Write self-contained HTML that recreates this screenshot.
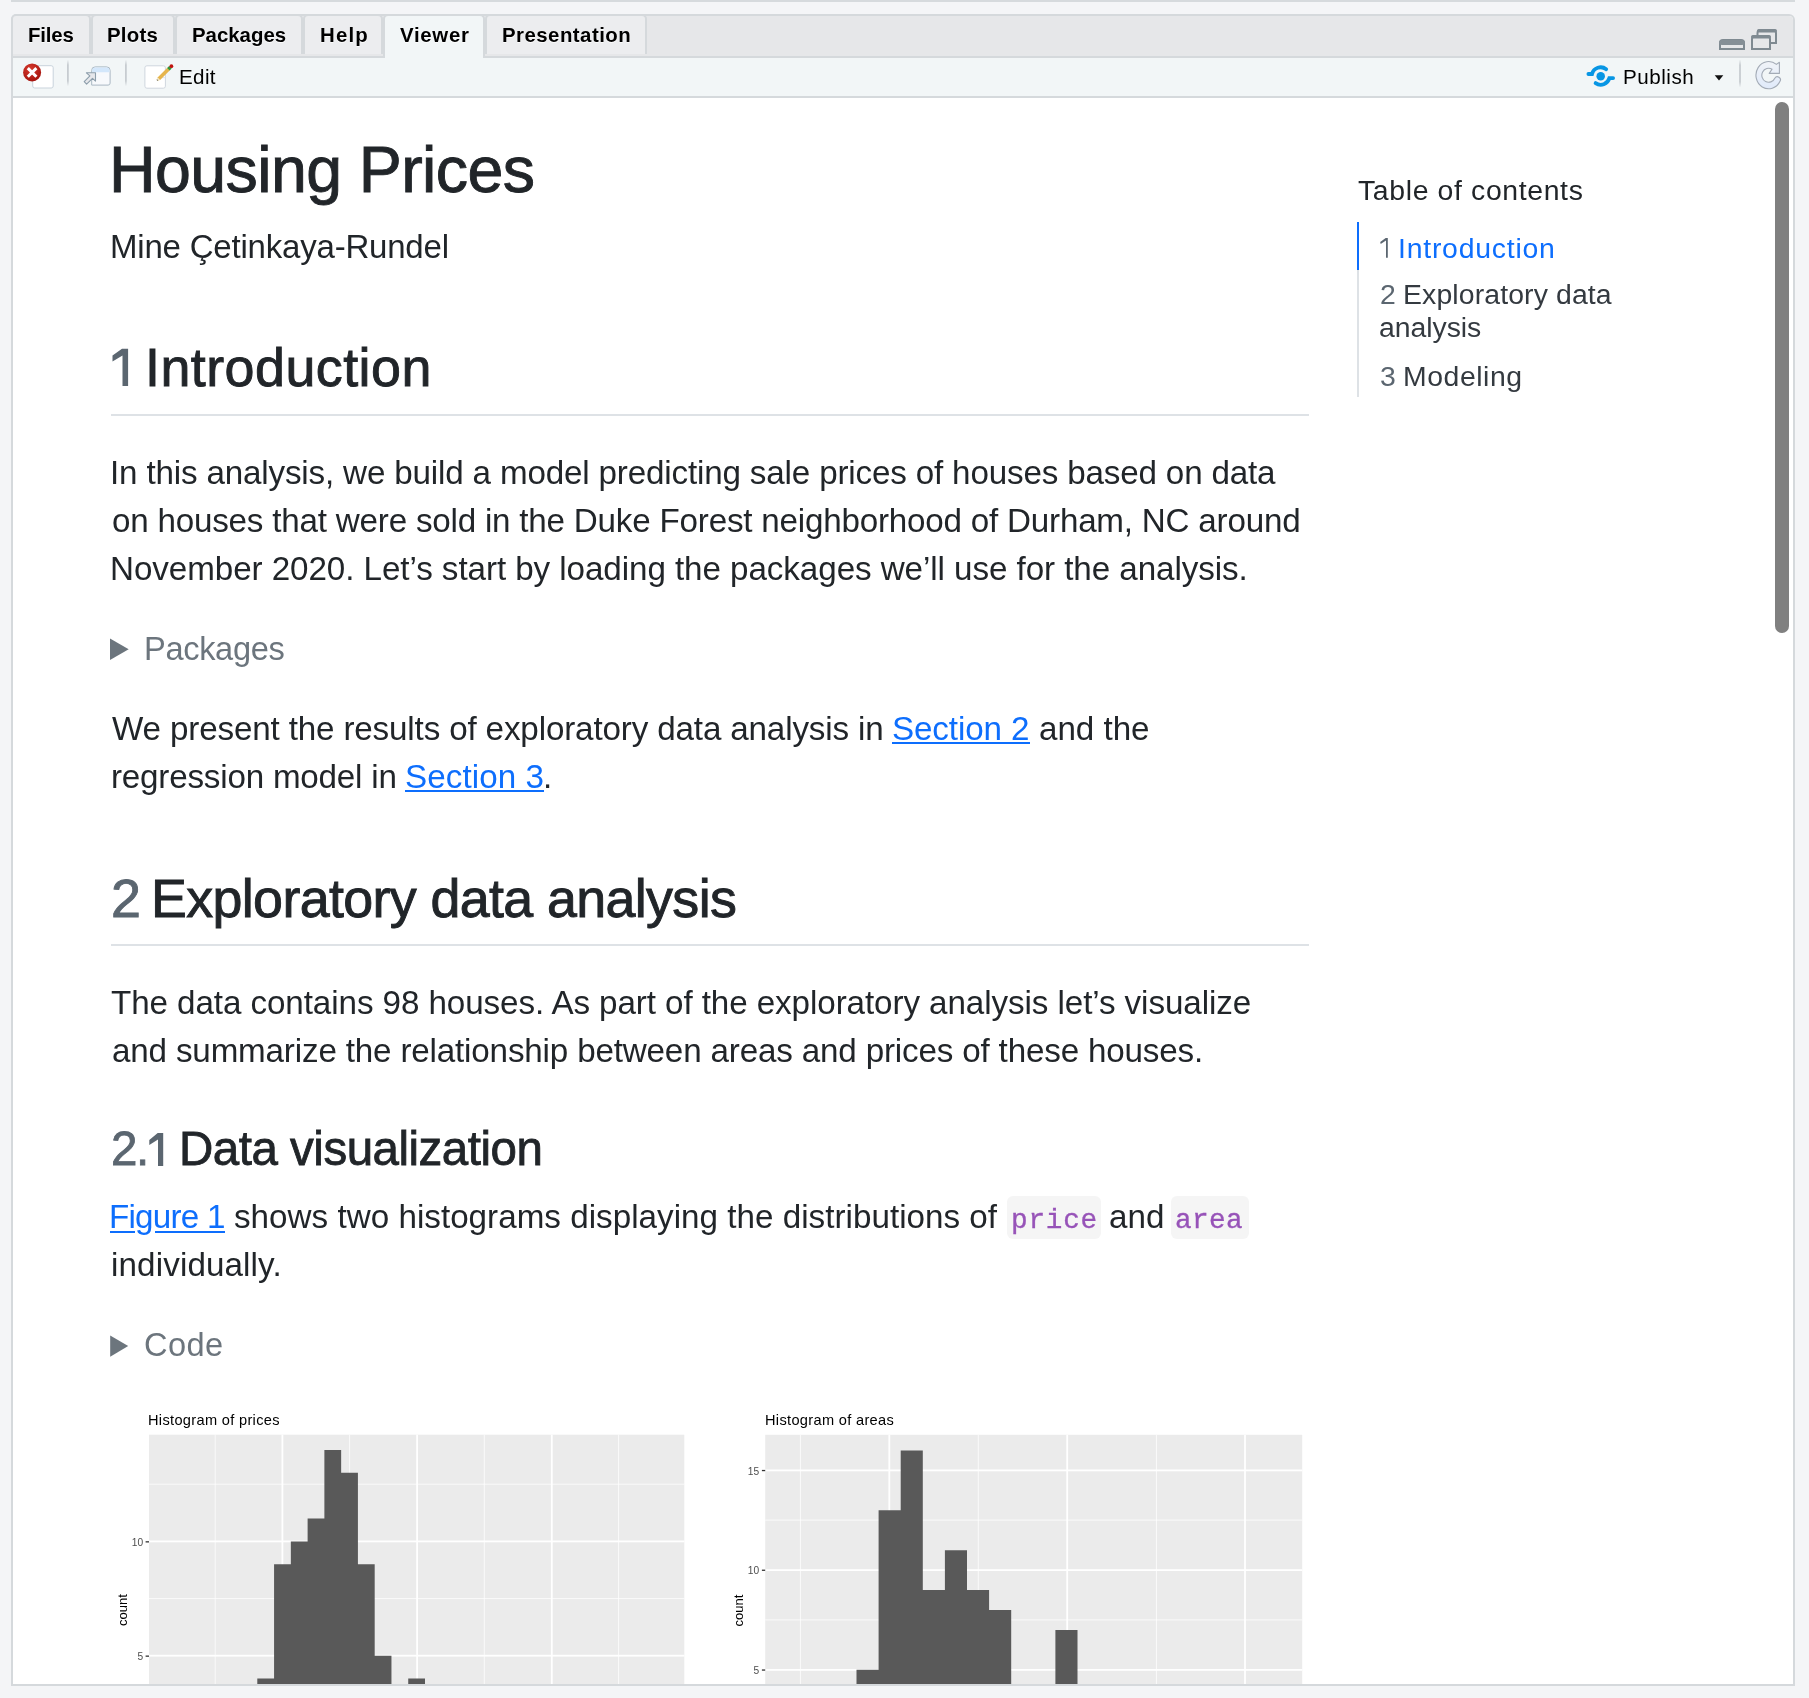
<!DOCTYPE html>
<html><head><meta charset="utf-8">
<style>
*{box-sizing:border-box;margin:0;padding:0}
html,body{width:1809px;height:1698px;overflow:hidden;background:#f4f5f7;font-family:"Liberation Sans",sans-serif}
.a{position:absolute}
.t{position:absolute;white-space:nowrap;line-height:1;font-family:"Liberation Sans",sans-serif;will-change:transform}
.tab{position:absolute;top:14px;height:40px;border:2px solid #d5d9dc;border-bottom:0;border-radius:5px 5px 0 0;background:#ecedef}
.sep{position:absolute;width:2px;background:linear-gradient(to bottom,rgba(200,205,210,0),#c6cbd0 25%,#c6cbd0 75%,rgba(200,205,210,0))}
</style></head><body>
<!-- top gray line -->
<div class="a" style="left:11px;top:0;width:1784px;height:2px;background:#d6dadd"></div>
<!-- panel -->
<div class="a" style="left:11px;top:14px;width:1784px;height:1672px;border:2px solid #d5d9dc;border-radius:6px 6px 0 0;background:#fff;overflow:hidden"></div>
<!-- tab strip -->
<div class="a" style="left:13px;top:16px;width:1780px;height:40px;background:#e6e7e9;border-radius:4px 4px 0 0"></div>
<div class="a" style="left:13px;top:56px;width:1780px;height:2px;background:#d5d9dc"></div>
<!-- tabs -->
<div class="tab" style="left:11px;width:80px"></div>
<div class="tab" style="left:91px;width:84px"></div>
<div class="tab" style="left:175px;width:128px"></div>
<div class="tab" style="left:303px;width:80px"></div>
<div class="tab" style="left:383px;width:102px;height:44px;background:#f2f6f7"></div>
<div class="tab" style="left:485px;width:162px"></div>
<!-- toolbar -->
<div class="a" style="left:13px;top:58px;width:1780px;height:38px;background:#f2f6f7"></div>
<div class="a" style="left:385px;top:54px;width:98px;height:4px;background:#f2f6f7"></div>
<div class="a" style="left:13px;top:96px;width:1780px;height:2px;background:#d5d9dc"></div>

<!-- window buttons -->
<svg class="a" style="left:1715px;top:25px" width="70" height="30" viewBox="1715 25 70 30">
  <path d="M1720 49 V43 a3 3 0 0 1 3 -3 H1741 a3 3 0 0 1 3 3 V49 Z" fill="none" stroke="#7f8a91" stroke-width="2"/>
  <rect x="1719" y="40" width="26" height="5" rx="3" fill="#858f96"/>
  <path d="M1757.5 37 V33 a3 3 0 0 1 3 -3 H1773 a3 3 0 0 1 3 3 V43 H1771" fill="none" stroke="#7f8a91" stroke-width="2"/>
  <rect x="1757" y="29" width="20" height="3.5" rx="2" fill="#7f8a91"/>
  <path d="M1752 49 V39 a3 3 0 0 1 3 -3 H1767 a3 3 0 0 1 3 3 V49 Z" fill="none" stroke="#7f8a91" stroke-width="2"/>
  <rect x="1751" y="35" width="20" height="3.5" rx="2" fill="#7f8a91"/>
</svg>

<!-- toolbar icons -->
<svg class="a" style="left:13px;top:58px" width="200" height="38" viewBox="13 58 200 38">
  <defs>
    <radialGradient id="rg" cx="0.4" cy="0.3" r="0.75"><stop offset="0" stop-color="#d63a2e"/><stop offset="1" stop-color="#a3120c"/></radialGradient>
    <linearGradient id="sepg" x1="0" y1="0" x2="0" y2="1"><stop offset="0" stop-color="#c2c7cc" stop-opacity="0"/><stop offset=".2" stop-color="#c2c7cc"/><stop offset=".8" stop-color="#c2c7cc"/><stop offset="1" stop-color="#c2c7cc" stop-opacity="0"/></linearGradient>
  </defs>
  <rect x="32.7" y="65.7" width="20.5" height="22.3" rx="2" fill="#fff" stroke="#c9d3dc" stroke-width="1"/>
  <circle cx="32.1" cy="72.4" r="9" fill="url(#rg)"/>
  <path d="M27.8 68.1 L36.4 76.7 M36.4 68.1 L27.8 76.7" stroke="#fff" stroke-width="3" stroke-linecap="butt"/>
  <rect x="67.1" y="59.7" width="1.6" height="26.5" fill="url(#sepg)"/>
  <path d="M91.7 85.1 V70.4 a3.5 3.5 0 0 1 3.5 -3.5 H106.6 a3.5 3.5 0 0 1 3.5 3.5 V83.1 a2 2 0 0 1 -2 2 Z" fill="#f7f9fc" stroke="#a9b8c3" stroke-width="1"/>
  <path d="M92.2 72.3 V70.4 a3 3 0 0 1 3 -3 H106.6 a3 3 0 0 1 3 3 V72.3 Z" fill="#d3e7fb"/>
  <path d="M86.4 72.8 L95.5 72.8 L95.5 81.1 L92.5 78.3 L86.6 84.1 L84.2 81.6 L89.9 75.8 Z" fill="#e6e7eb" stroke="#8d9eab" stroke-width="1.1" stroke-linejoin="round"/>
  <rect x="125.1" y="59.7" width="1.6" height="26.5" fill="url(#sepg)"/>
  <rect x="144.9" y="65.8" width="20.5" height="22.4" rx="2" fill="#fff" stroke="#cfd6de" stroke-width="1"/>
  <path d="M160 77.6 L165.2 77.6" stroke="#e3e6ea" stroke-width="1.2"/>
  <path d="M158.6 79 L168.6 69" stroke="#e6b54c" stroke-width="3.6" stroke-linecap="butt"/>
  <path d="M157.3 80.3 L158.9 78.7" stroke="#f1e4c0" stroke-width="2.6"/>
  <path d="M157.1 80.5 L157.7 79.9" stroke="#7a7460" stroke-width="1.6"/>
  <path d="M168.4 69.2 L170.4 67.2" stroke="#2f9a3c" stroke-width="3.6"/>
  <circle cx="171.4" cy="66.2" r="1.9" fill="#c0140f"/>
</svg>

<svg class="a" style="left:1580px;top:58px" width="213" height="38" viewBox="1580 58 213 38">
  <defs><linearGradient id="refg" x1="0" y1="0" x2="0" y2="1"><stop offset="0" stop-color="#f0f3f8"/><stop offset="1" stop-color="#e0eafa"/></linearGradient></defs>
  <circle cx="1600.7" cy="76.3" r="4.25" fill="#0896e4"/>
  <path d="M1588.4 74 H1592 A9 9 0 0 1 1606.2 69.2" fill="none" stroke="#0896e4" stroke-width="3.8" stroke-linecap="round"/>
  <path d="M1613.1 78.1 H1609.4 A8.9 8.9 0 0 1 1595.6 83.1" fill="none" stroke="#0896e4" stroke-width="3.8" stroke-linecap="round"/>
  <path d="M1714.7 75.2 H1723.3 L1719 80.5 Z" fill="#111"/>
  <rect x="1739.2" y="59.5" width="1.6" height="28" fill="url(#sepg2)"/>
  <defs><linearGradient id="sepg2" x1="0" y1="0" x2="0" y2="1"><stop offset="0" stop-color="#c2c7cc" stop-opacity="0"/><stop offset=".2" stop-color="#c2c7cc"/><stop offset=".8" stop-color="#c2c7cc"/><stop offset="1" stop-color="#c2c7cc" stop-opacity="0"/></linearGradient></defs>
  <path d="M1776.4 64.4 A12.7 13.6 0 1 0 1780 81.3 A3 3 0 0 0 1774.8 78.2 A6.8 7 0 1 1 1772 69.2 L1769.2 73.4 L1779.4 73.4 L1779.4 62.3 Z" fill="url(#refg)" stroke="#a3abb6" stroke-width="1.1" stroke-linejoin="round"/>
</svg>

<!-- scrollbar -->
<div class="a" style="left:1775px;top:102px;width:14px;height:531px;border-radius:7px;background:#808080"></div>

<!-- rules -->
<div class="a" style="left:111px;top:414px;width:1198px;height:2px;background:#dee2e6"></div>
<div class="a" style="left:111px;top:944px;width:1198px;height:2px;background:#dee2e6"></div>
<!-- toc bar -->
<div class="a" style="left:1357px;top:222px;width:2px;height:48px;background:#0d6efd"></div>
<div class="a" style="left:1357px;top:270px;width:2px;height:127px;background:#dee2e6"></div>
<!-- summary triangles -->
<svg class="a" style="left:100px;top:620px" width="40" height="760" viewBox="100 620 40 760">
  <path d="M110 638.6 L128.7 649.3 L110 660 Z" fill="#6c757d"/>
  <path d="M110.2 1335.5 L128.2 1346.1 L110.2 1356.7 Z" fill="#6c757d"/>
</svg>
<!-- code chips -->
<div class="a" style="left:1007.4px;top:1196.1px;width:93.4px;height:43.4px;border-radius:6px;background:#f5f5f5"></div>
<div class="a" style="left:1171.1px;top:1196.1px;width:78px;height:43.4px;border-radius:6px;background:#f5f5f5"></div>
<!-- link underlines -->
<div class="a" style="left:892px;top:742px;width:138px;height:2px;background:#0d6efd"></div>
<div class="a" style="left:405px;top:790px;width:139px;height:2px;background:#0d6efd"></div>
<div class="a" style="left:110px;top:1230.5px;width:24.5px;height:2px;background:#0d6efd"></div>
<div class="a" style="left:155.3px;top:1230.5px;width:69.7px;height:2px;background:#0d6efd"></div>

<!-- custom "1" glyphs -->
<svg class="a" style="left:100px;top:340px" width="80" height="830" viewBox="100 340 80 830">
  <path d="M112.5 355.6 L122.0 348.8 L128.1 348.8 L128.1 385.9 L122.5 385.9 L122.5 355.4 L112.5 361.4 Z" fill="#5b6670"/>
  <path d="M149.3 1139.9 L157.7 1133.1 L163.2 1133.1 L163.2 1165.9 L158.0 1165.9 L158.0 1139.6 L149.3 1145.0 Z" fill="#5b6670"/>
</svg>
<svg class="a" style="left:1376px;top:234px" width="16" height="28" viewBox="1376 234 16 28">
  <path d="M1380.2 242.1 L1385.7 238.1 L1387.8 238.1 L1387.8 257.8 L1386 257.8 L1386 240.4 L1380.7 244 Z" fill="#5b6670"/>
</svg>
<!-- plots -->
<svg class="a" style="left:0;top:0;font-family:'Liberation Sans',sans-serif;will-change:transform" width="1809" height="1684" viewBox="0 0 1809 1684">
<rect x="149" y="1434.7" width="535.3" height="249.29999999999995" fill="#ebebeb"/>
<rect x="214.70" y="1434.7" width="1" height="249.29999999999995" fill="#fff" opacity=".75"/>
<rect x="349.10" y="1434.7" width="1" height="249.29999999999995" fill="#fff" opacity=".75"/>
<rect x="483.80" y="1434.7" width="1" height="249.29999999999995" fill="#fff" opacity=".75"/>
<rect x="618.10" y="1434.7" width="1" height="249.29999999999995" fill="#fff" opacity=".75"/>
<rect x="149" y="1483.70" width="535.3" height="1" fill="#fff" opacity=".75"/>
<rect x="149" y="1598.10" width="535.3" height="1" fill="#fff" opacity=".75"/>
<rect x="281.50" y="1434.7" width="1.8" height="249.29999999999995" fill="#fff"/>
<rect x="416.20" y="1434.7" width="1.8" height="249.29999999999995" fill="#fff"/>
<rect x="550.90" y="1434.7" width="1.8" height="249.29999999999995" fill="#fff"/>
<rect x="149" y="1540.50" width="535.3" height="1.8" fill="#fff"/>
<rect x="149" y="1654.80" width="535.3" height="1.8" fill="#fff"/>
<path d="M257.30 1684.00 L257.30 1678.56 L274.07 1678.56 L274.07 1564.26 L290.84 1564.26 L290.84 1541.40 L307.61 1541.40 L307.61 1518.54 L324.38 1518.54 L324.38 1449.96 L341.15 1449.96 L341.15 1472.82 L357.92 1472.82 L357.92 1564.26 L374.69 1564.26 L374.69 1655.70 L391.46 1655.70 L391.46 1684.00 Z M408.23 1684.00 L408.23 1678.56 L425.00 1678.56 L425.00 1684.00 Z " fill="#595959"/>
<rect x="145.6" y="1541.20" width="3.4" height="1.3" fill="#333"/>
<text x="143.1" y="1545.70" text-anchor="end" font-size="10.2" fill="#4d4d4d">10</text>
<rect x="145.6" y="1655.50" width="3.4" height="1.3" fill="#333"/>
<text x="143.1" y="1660.00" text-anchor="end" font-size="10.2" fill="#4d4d4d">5</text>
<text transform="translate(127.1 1610) rotate(-90)" text-anchor="middle" font-size="13.0" fill="#000">count</text>
<rect x="765.2" y="1434.8" width="537.0" height="249.20000000000005" fill="#ebebeb"/>
<rect x="799.90" y="1434.8" width="1" height="249.20000000000005" fill="#fff" opacity=".75"/>
<rect x="977.80" y="1434.8" width="1" height="249.20000000000005" fill="#fff" opacity=".75"/>
<rect x="1155.90" y="1434.8" width="1" height="249.20000000000005" fill="#fff" opacity=".75"/>
<rect x="765.2" y="1519.60" width="537.0" height="1" fill="#fff" opacity=".75"/>
<rect x="765.2" y="1619.40" width="537.0" height="1" fill="#fff" opacity=".75"/>
<rect x="888.40" y="1434.8" width="1.8" height="249.20000000000005" fill="#fff"/>
<rect x="1066.30" y="1434.8" width="1.8" height="249.20000000000005" fill="#fff"/>
<rect x="1244.10" y="1434.8" width="1.8" height="249.20000000000005" fill="#fff"/>
<rect x="765.2" y="1469.50" width="537.0" height="1.8" fill="#fff"/>
<rect x="765.2" y="1569.20" width="537.0" height="1.8" fill="#fff"/>
<rect x="765.2" y="1669.00" width="537.0" height="1.8" fill="#fff"/>
<path d="M856.50 1684.00 L856.50 1669.85 L878.60 1669.85 L878.60 1510.25 L900.70 1510.25 L900.70 1450.40 L922.80 1450.40 L922.80 1590.05 L944.90 1590.05 L944.90 1550.15 L967.00 1550.15 L967.00 1590.05 L989.10 1590.05 L989.10 1610.00 L1011.20 1610.00 L1011.20 1684.00 Z M1055.40 1684.00 L1055.40 1629.95 L1077.50 1629.95 L1077.50 1684.00 Z " fill="#595959"/>
<rect x="761.9" y="1469.90" width="3.3" height="1.3" fill="#333"/>
<text x="759.2" y="1474.50" text-anchor="end" font-size="10.2" fill="#4d4d4d">15</text>
<rect x="761.9" y="1569.60" width="3.3" height="1.3" fill="#333"/>
<text x="759.2" y="1574.20" text-anchor="end" font-size="10.2" fill="#4d4d4d">10</text>
<rect x="761.9" y="1669.40" width="3.3" height="1.3" fill="#333"/>
<text x="759.2" y="1674.00" text-anchor="end" font-size="10.2" fill="#4d4d4d">5</text>
<text transform="translate(743.0 1610.5) rotate(-90)" text-anchor="middle" font-size="13.0" fill="#000">count</text>
</svg>

<div class="t" style="left:28.10px;top:24.90px;font-size:20.4px;letter-spacing:-0.175px;color:#000;font-weight:700;text-shadow:0 1px 0 rgba(255,255,255,.8);">Files</div>
<div class="t" style="left:107.20px;top:24.90px;font-size:20.4px;letter-spacing:0.225px;color:#000;font-weight:700;text-shadow:0 1px 0 rgba(255,255,255,.8);">Plots</div>
<div class="t" style="left:191.80px;top:24.90px;font-size:20.4px;letter-spacing:0.000px;color:#000;font-weight:700;text-shadow:0 1px 0 rgba(255,255,255,.8);">Packages</div>
<div class="t" style="left:319.50px;top:24.90px;font-size:20.4px;letter-spacing:1.200px;color:#000;font-weight:700;text-shadow:0 1px 0 rgba(255,255,255,.8);">Help</div>
<div class="t" style="left:400.00px;top:24.90px;font-size:20.4px;letter-spacing:0.700px;color:#000;font-weight:700;text-shadow:0 1px 0 rgba(255,255,255,.8);">Viewer</div>
<div class="t" style="left:501.80px;top:24.90px;font-size:20.4px;letter-spacing:0.473px;color:#000;font-weight:700;text-shadow:0 1px 0 rgba(255,255,255,.8);">Presentation</div>
<div class="t" style="left:178.80px;top:66.80px;font-size:20.6px;letter-spacing:0.367px;color:#000;">Edit</div>
<div class="t" style="left:1622.80px;top:66.90px;font-size:20.6px;letter-spacing:0.517px;color:#000;">Publish</div>
<div class="t" style="left:109.30px;top:137.70px;font-size:64.5px;letter-spacing:-0.600px;color:#212529;-webkit-text-stroke:0.9px #212529;">Housing Prices</div>
<div class="t" style="left:110.00px;top:229.90px;font-size:33.0px;letter-spacing:-0.200px;color:#212529;">Mine Çetinkaya-Rundel</div>
<div class="t" style="left:144.80px;top:340.90px;font-size:53.8px;letter-spacing:0.473px;color:#212529;-webkit-text-stroke:0.9px #212529;">Introduction</div>
<div class="t" style="left:110.00px;top:455.90px;font-size:33.2px;letter-spacing:-0.166px;color:#212529;">In this analysis, we build a model predicting sale prices of houses based on data</div>
<div class="t" style="left:111.50px;top:503.90px;font-size:33.2px;letter-spacing:-0.211px;color:#212529;">on houses that were sold in the Duke Forest neighborhood of Durham, NC around</div>
<div class="t" style="left:110.00px;top:551.90px;font-size:33.2px;letter-spacing:-0.069px;color:#212529;">November 2020. Let’s start by loading the packages we’ll use for the analysis.</div>
<div class="t" style="left:144.30px;top:632.80px;font-size:32.6px;letter-spacing:-0.329px;color:#6c757d;">Packages</div>
<div class="t" style="left:111.60px;top:711.70px;font-size:33.2px;letter-spacing:-0.151px;color:#212529;">We present the results of exploratory data analysis in</div>
<div class="t" style="left:892.00px;top:711.70px;font-size:33.2px;letter-spacing:-0.125px;color:#0d6efd;">Section 2</div>
<div class="t" style="left:1039.40px;top:711.70px;font-size:33.2px;letter-spacing:-0.033px;color:#212529;">and the</div>
<div class="t" style="left:110.50px;top:759.80px;font-size:33.2px;letter-spacing:-0.206px;color:#212529;">regression model in</div>
<div class="t" style="left:404.90px;top:759.80px;font-size:33.2px;letter-spacing:0.088px;color:#0d6efd;">Section 3</div>
<div class="t" style="left:543.10px;top:759.80px;font-size:33.2px;letter-spacing:0.000px;color:#212529;">.</div>
<div class="t" style="left:110.80px;top:871.50px;font-size:53.8px;letter-spacing:0.000px;color:#5b6670;-webkit-text-stroke:0.9px #5b6670;">2</div>
<div class="t" style="left:150.70px;top:871.50px;font-size:53.8px;letter-spacing:-0.633px;color:#212529;-webkit-text-stroke:0.9px #212529;">Exploratory data analysis</div>
<div class="t" style="left:110.80px;top:985.80px;font-size:33.2px;letter-spacing:-0.084px;color:#212529;">The data contains 98 houses. As part of the exploratory analysis let’s visualize</div>
<div class="t" style="left:111.50px;top:1033.80px;font-size:33.2px;letter-spacing:-0.169px;color:#212529;">and summarize the relationship between areas and prices of these houses.</div>
<div class="t" style="left:110.70px;top:1124.90px;font-size:47.5px;letter-spacing:0.000px;color:#5b6670;-webkit-text-stroke:0.8px #5b6670;">2</div>
<div class="t" style="left:135.60px;top:1124.90px;font-size:47.5px;letter-spacing:0.000px;color:#5b6670;-webkit-text-stroke:0.8px #5b6670;">.</div>
<div class="t" style="left:179.00px;top:1124.90px;font-size:47.5px;letter-spacing:-0.494px;color:#212529;-webkit-text-stroke:0.8px #212529;">Data visualization</div>
<div class="t" style="left:109.20px;top:1199.80px;font-size:33.2px;letter-spacing:-0.771px;color:#0d6efd;">Figure 1</div>
<div class="t" style="left:233.90px;top:1199.80px;font-size:33.2px;letter-spacing:0.024px;color:#212529;">shows two histograms displaying the distributions of</div>
<div class="t" style="left:1010.60px;top:1206.80px;font-size:27.7px;letter-spacing:0.775px;color:#9753b8;font-family:'Liberation Mono',monospace;-webkit-text-stroke:0.35px #9753b8;">price</div>
<div class="t" style="left:1109.20px;top:1199.80px;font-size:33.2px;letter-spacing:0.000px;color:#212529;">and</div>
<div class="t" style="left:1175.00px;top:1206.80px;font-size:27.7px;letter-spacing:0.400px;color:#9753b8;font-family:'Liberation Mono',monospace;-webkit-text-stroke:0.35px #9753b8;">area</div>
<div class="t" style="left:110.50px;top:1247.80px;font-size:33.2px;letter-spacing:0.125px;color:#212529;">individually.</div>
<div class="t" style="left:144.40px;top:1328.90px;font-size:32.6px;letter-spacing:0.400px;color:#6c757d;">Code</div>
<div class="t" style="left:1357.90px;top:175.80px;font-size:28.4px;letter-spacing:0.637px;color:#212529;">Table of contents</div>
<div class="t" style="left:1397.70px;top:233.90px;font-size:28.4px;letter-spacing:0.773px;color:#0d6efd;">Introduction</div>
<div class="t" style="left:1379.60px;top:280.10px;font-size:28.4px;letter-spacing:0.000px;color:#5b6670;">2</div>
<div class="t" style="left:1402.60px;top:280.10px;font-size:28.4px;letter-spacing:0.127px;color:#343a40;">Exploratory data</div>
<div class="t" style="left:1379.30px;top:313.40px;font-size:28.4px;letter-spacing:-0.043px;color:#343a40;">analysis</div>
<div class="t" style="left:1379.80px;top:361.80px;font-size:28.4px;letter-spacing:0.000px;color:#5b6670;">3</div>
<div class="t" style="left:1403.20px;top:361.80px;font-size:28.4px;letter-spacing:0.557px;color:#343a40;">Modeling</div>
<div class="t" style="left:148.40px;top:1413.30px;font-size:14.6px;letter-spacing:0.322px;color:#000;">Histogram of prices</div>
<div class="t" style="left:764.80px;top:1413.20px;font-size:14.6px;letter-spacing:0.324px;color:#000;">Histogram of areas</div>
</body></html>
